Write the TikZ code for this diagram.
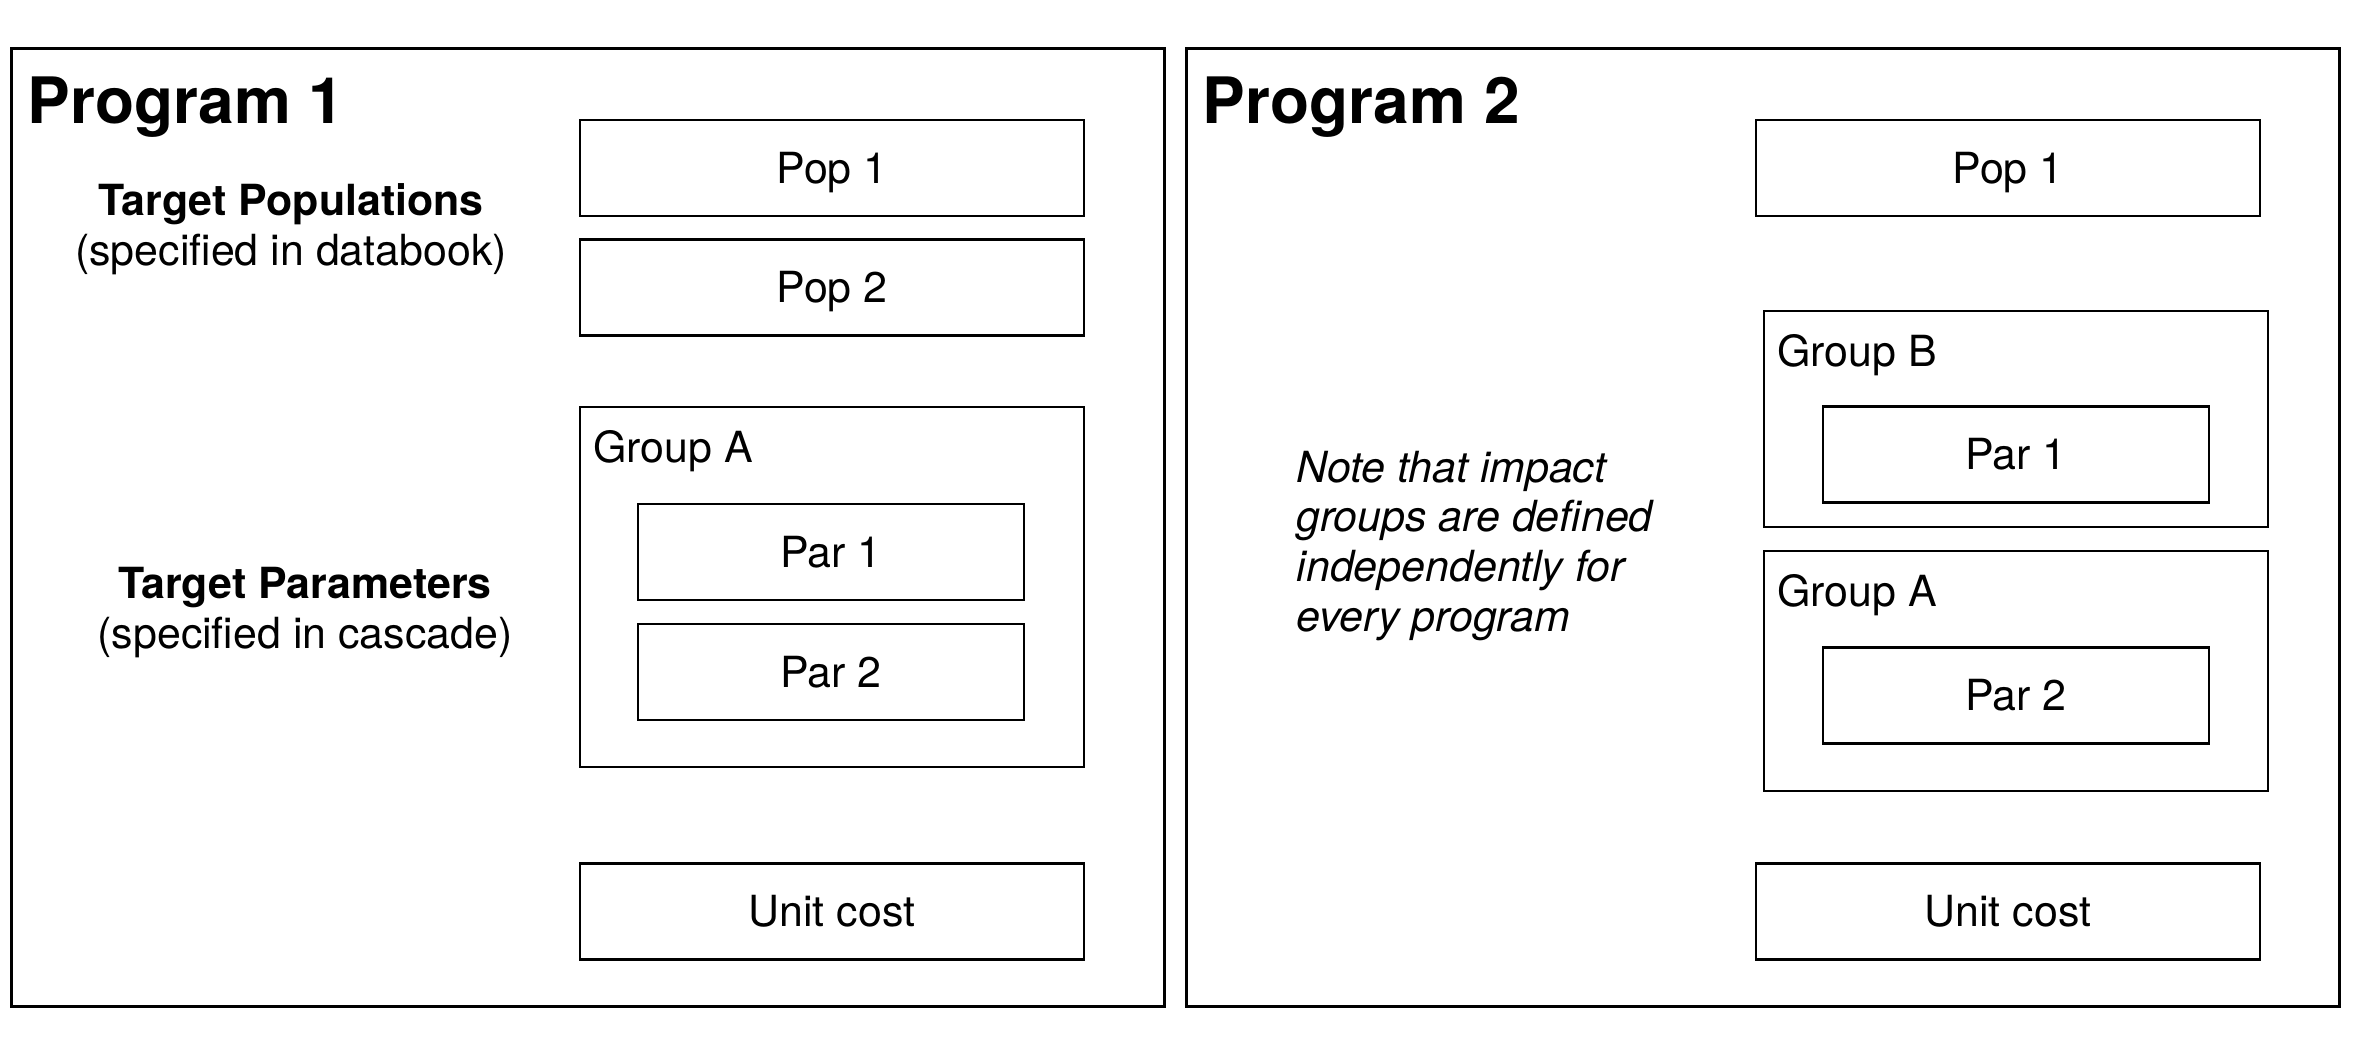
\documentclass[tikz,border=0pt]{standalone}
\usepackage{fontspec}
\setmainfont{TeX Gyre Heros}
\newcommand{\txtnormal}{\fontsize{12.2}{14.2}\selectfont}
\newcommand{\txttitle}{\fontsize{18.2}{22}\selectfont\bfseries}
\begin{document}
\begin{tikzpicture}[x=0.01cm,y=-0.01cm,
  progframe/.style={draw,line width=0.7pt,minimum width=11.52cm,minimum height=9.57cm,inner sep=0},
  itembox/.style={draw,line width=0.7pt,minimum width=5.04cm,minimum height=0.96cm,inner sep=0,
    text height=8.8pt,text depth=0pt,font=\txtnormal},
  parbox/.style={itembox,minimum width=3.86cm},
  groupbox/.style={draw,line width=0.7pt,minimum width=5.04cm,inner sep=0},
  grouplabel/.style={anchor=west,inner sep=0,text height=8.8pt,text depth=0pt,font=\txtnormal},
  progtitle/.style={anchor=base west,inner sep=0,font=\txttitle},
  sidelabel/.style={align=center,inner sep=0,font=\txtnormal}]
  \useasboundingbox (0,0) rectangle (2380,1061);

  % Program 1
  \node[progframe] (prog1) at (588,527.5) {};
  \node[progtitle] (title1) at (27,124) {Program 1};

  % Target populations
  \node[itembox] (pop11) at (832,168) {Pop 1};
  \node[itembox] (pop12) at (832,287.5) {Pop 2};
  \node[sidelabel] (tpops) at (291,229) {\textbf{Target Populations}\\(specified in databook)};

  % Target parameters
  \node[groupbox,minimum height=3.6cm] (grpA1) at (832,587) {};
  \node[grouplabel] (grpA1lbl) at ([shift={(14,41)}]grpA1.north west) {Group A};
  \node[parbox] (par11) at (831,552) {Par 1};
  \node[parbox] (par12) at (831,672) {Par 2};
  \node[sidelabel] (tpars) at (305,613) {\textbf{Target Parameters}\\(specified in cascade)};

  \node[itembox] (cost1) at (832,911.5) {Unit cost};

  % Program 2
  \node[progframe] (prog2) at (1763,527.5) {};
  \node[progtitle] (title2) at (1202,124) {Program 2};

  \node[itembox] (pop21) at (2008,168) {Pop 1};

  \node[groupbox,minimum height=2.16cm] (grpB2) at (2016,419) {};
  \node[grouplabel] (grpB2lbl) at ([shift={(14,41)}]grpB2.north west) {Group B};
  \node[parbox] (par21) at (2016,454.5) {Par 1};

  \node[groupbox,minimum height=2.4cm] (grpA2) at (2016,671) {};
  \node[grouplabel] (grpA2lbl) at ([shift={(14,41)}]grpA2.north west) {Group A};
  \node[parbox] (par22) at (2016,695.5) {Par 2};

  \node[itembox] (cost2) at (2008,911.5) {Unit cost};

  % Note
  \node[anchor=west,align=left,inner sep=0,font=\txtnormal\itshape] (note) at (1296,546)
    {Note that impact\\groups are defined\\independently for\\every program};

\end{tikzpicture}
\end{document}
